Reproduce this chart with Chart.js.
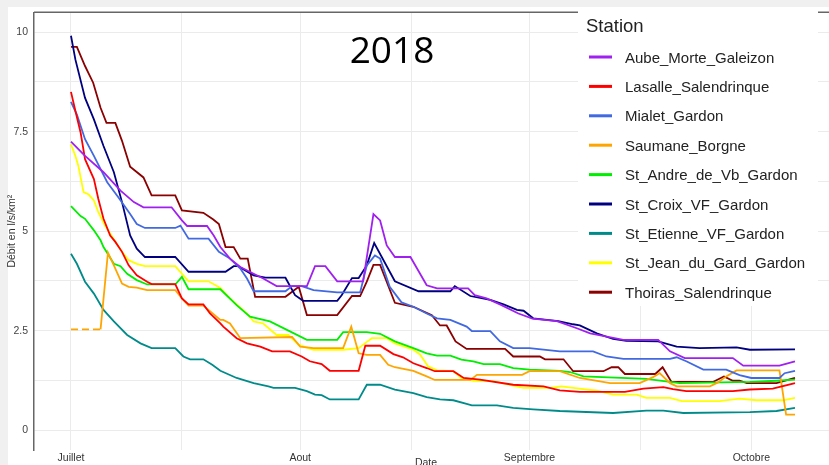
<!DOCTYPE html>
<html>
<head>
<meta charset="utf-8">
<script src="https://cdn.jsdelivr.net/npm/chart.js@4.4.1/dist/chart.umd.min.js"></script>
<style>
  html, body { margin: 0; padding: 0; background: #fff; }
</style>
</head>
<body>
<canvas id="myChart" width="829" height="465"></canvas>
<script>
// day 0 = 1 juillet 2018
const monthTicks = [0, 15, 31, 46, 62, 77, 92];
const monthLabels = { 0: "Juillet", 31: "Aout", 62: "Septembre", 92: "Octobre" };
const yTicks = [0, 1.25, 2.5, 3.75, 5, 6.25, 7.5, 8.75, 10];
const yLabels = { 0: "0", 2.5: "2.5", 5: "5", 7.5: "7.5", 10: "10" };

const stations = [
  "Aube_Morte_Galeizon",
  "Lasalle_Salendrinque",
  "Mialet_Gardon",
  "Saumane_Borgne",
  "St_Andre_de_Vb_Gardon",
  "St_Croix_VF_Gardon",
  "St_Etienne_VF_Gardon",
  "St_Jean_du_Gard_Gardon",
  "Thoiras_Salendrinque",
];

// [day, débit l/s/km²]
const aubeMorte = [[0,7.25],[1.9,6.89],[4.4,6.48],[6.7,6.02],[8.5,5.73],[9.8,5.6],[13.6,5.6],[15,5.27],[15.7,5.13],[18.4,5.13],[19.3,4.89],[20.2,4.6],[21.5,4.31],[22.9,4.1],[24.7,3.93],[26,3.81],[27.8,3.62],[31.9,3.62],[33,4.12],[34.4,4.12],[36,3.74],[39.5,3.74],[40.9,5.43],[41.8,5.27],[42.7,4.64],[43.8,4.35],[45.9,4.35],[48.1,3.64],[49.5,3.56],[53.7,3.56],[54.6,3.39],[56.2,3.31],[58,3.16],[60.5,2.93],[62.4,2.8],[65.7,2.74],[68.4,2.56],[70.2,2.43],[74.7,2.27],[79.4,2.27],[81,1.98],[83,1.81],[89.5,1.81],[90.9,1.62],[95.8,1.62],[97.9,1.73]];
const lasalle = [[0,8.5],[0.6,8.02],[1.3,7.48],[1.9,6.81],[3.1,6.31],[3.7,5.81],[4.4,5.31],[5.3,4.89],[6,4.73],[6.9,4.48],[7.8,4.14],[8.9,3.89],[10.3,3.73],[10.9,3.67],[14.1,3.67],[15,3.31],[15.9,3.16],[17.9,3.16],[18.8,2.93],[20.2,2.68],[20.6,2.6],[22.4,2.31],[23.8,2.18],[25.6,2.1],[27.2,1.98],[29.6,1.98],[31.2,1.85],[32.3,1.73],[33.9,1.66],[35,1.49],[38.9,1.49],[39.8,2.12],[41.8,2.12],[43.6,1.91],[44.9,1.83],[46.3,1.68],[48.1,1.56],[49.2,1.48],[51.7,1.48],[53.1,1.31],[55.3,1.27],[59.8,1.14],[63.9,1.1],[66.1,1.0],[68.8,0.96],[74.9,0.96],[77.4,1.04],[80.1,1.08],[81.4,1.03],[83.2,0.98],[89.5,0.98],[91.8,1.02],[94.9,1.04],[97.9,1.18]];
const mialet = [[0,8.25],[0.8,7.93],[1.9,7.31],[3.1,6.89],[4.9,6.23],[6.4,5.85],[8,5.43],[8.9,5.18],[10,5.08],[14.1,5.08],[14.8,5.14],[15.9,4.81],[18.6,4.81],[20,4.48],[21.5,4.31],[22.9,4.06],[23.8,3.81],[24.7,3.49],[29,3.49],[29.9,3.62],[31.2,3.62],[32.8,3.52],[36,3.46],[39.1,3.46],[40,4.14],[41.1,4.39],[41.8,4.31],[43.1,3.6],[44.7,3.21],[46.3,3.1],[48.1,2.93],[49.5,2.81],[51.3,2.77],[53.5,2.6],[54.2,2.49],[56.7,2.49],[58,2.23],[59.8,2.06],[62,2.06],[63.9,2.02],[66.1,1.98],[70.6,1.98],[72.4,1.85],[74.7,1.79],[81,1.79],[81.9,1.83],[83.2,1.73],[85.5,1.52],[88.6,1.52],[90.4,1.38],[92,1.31],[95.8,1.31],[96.5,1.43],[97.9,1.49]];
const saumane = [[0,2.53],[4,2.53],[5,4.46],[5.8,4.14],[6.9,3.68],[7.8,3.6],[8.9,3.58],[10.3,3.52],[14.1,3.52],[15,3.31],[15.9,3.13],[17.9,3.13],[20.2,2.77],[20.6,2.77],[21.5,2.68],[22.9,2.31],[29.9,2.34],[31,2.1],[32.8,2.06],[36.8,2.06],[37.9,2.6],[38.9,1.93],[40,1.89],[41.8,1.89],[42.9,1.64],[43.8,1.58],[46.3,1.49],[48.1,1.35],[49.2,1.26],[54,1.26],[54.9,1.39],[61,1.39],[62,1.48],[66.1,1.48],[68.8,1.31],[72.9,1.18],[76.9,1.18],[78.7,1.33],[79.6,1.43],[81,1.18],[81.9,1.1],[86.4,1.1],[87.5,1.2],[88.6,1.35],[90,1.5],[95.8,1.5],[96.7,0.39],[97.9,0.39]];
const standre = [[0,5.63],[1.3,5.38],[1.9,5.31],[3.1,5.02],[4,4.77],[4.4,4.6],[5.8,4.18],[6.7,4.12],[7.6,3.93],[8.9,3.77],[10.3,3.66],[14.1,3.66],[15,3.85],[15.9,3.54],[20.2,3.54],[22.4,3.14],[24.2,2.85],[26.9,2.73],[29.2,2.52],[31.9,2.27],[36,2.27],[36.8,2.46],[40,2.46],[41.8,2.42],[43.8,2.23],[46.3,2.06],[48.1,1.93],[49.5,1.87],[51.3,1.87],[52.8,1.77],[54.4,1.73],[55.8,1.66],[58,1.66],[59.8,1.56],[62,1.52],[66.1,1.49],[67.5,1.46],[69.3,1.35],[77.8,1.29],[82.3,1.18],[91.8,1.21],[95.4,1.24],[97.9,1.27]];
const stcroix = [[0,9.91],[0.6,9.31],[1.9,8.35],[3.1,7.81],[4.4,7.14],[5.8,6.48],[6.9,5.73],[8,4.89],[8.9,4.56],[10,4.35],[14.1,4.35],[15.9,3.98],[20.9,3.98],[22,4.12],[22.6,4.12],[24.7,3.89],[26.3,3.83],[29,3.83],[30.3,3.39],[31.4,3.25],[36,3.25],[36.6,3.39],[38,3.82],[38.9,3.82],[40,4.14],[41,4.7],[43.8,3.74],[47,3.49],[51.3,3.49],[51.9,3.62],[54,3.37],[56.7,3.27],[58.5,3.16],[60.3,3.02],[61.2,3.0],[62.5,2.81],[65.9,2.74],[67.9,2.66],[68.8,2.63],[71.1,2.43],[73.3,2.29],[75.1,2.24],[79.4,2.23],[81.9,2.1],[85,2.06],[90,2.08],[91.8,2.02],[97.9,2.03]];
const stetienne = [[0,4.43],[0.8,4.18],[1.9,3.73],[3.1,3.43],[4.4,3.02],[5.8,2.73],[7.6,2.39],[9.4,2.18],[10.9,2.06],[14.1,2.06],[15.2,1.85],[16.1,1.78],[17.9,1.78],[19.1,1.64],[20.2,1.49],[22.4,1.31],[24.7,1.18],[26.7,1.1],[27.4,1.06],[30.3,1.06],[31.9,0.98],[33,0.89],[33.9,0.88],[35,0.77],[38.9,0.77],[40,1.14],[41.8,1.14],[43.8,1.02],[46.3,0.93],[48.1,0.83],[49.9,0.77],[51.7,0.75],[53.5,0.66],[54.2,0.62],[57.6,0.62],[59.8,0.56],[62.5,0.52],[66.1,0.48],[73.3,0.43],[77.8,0.49],[80.1,0.49],[82.8,0.43],[91.8,0.45],[95.4,0.48],[97.9,0.56]];
const stjean = [[0,7.18],[0.6,6.89],[1,6.64],[1.7,5.98],[2.4,5.92],[3.1,5.77],[3.7,5.48],[4.6,5.14],[6.2,4.68],[6.9,4.48],[7.8,4.27],[8.9,4.18],[10,4.12],[14.1,4.12],[15.9,3.74],[18.6,3.74],[20.2,3.57],[21.5,3.31],[23.8,2.93],[24.7,2.73],[26,2.68],[27.8,2.39],[29.4,2.39],[30.8,2.14],[32.8,2.02],[36.8,2.02],[38.9,2.06],[40.1,2.23],[40.7,2.31],[42.7,2.31],[43.8,2.18],[46.3,2.02],[47.2,1.9],[48.3,1.6],[49.5,1.5],[51.7,1.48],[52.8,1.31],[54.4,1.24],[57.1,1.23],[59.8,1.12],[61.2,1.06],[64.8,1.06],[66.3,1.1],[67.9,1.06],[71.1,0.99],[73.3,0.89],[76.5,0.89],[77.8,0.81],[81,0.81],[82.6,0.73],[87.7,0.73],[90.4,0.79],[92.7,0.75],[96.3,0.75],[97.9,0.81]];
const thoiras = [[0,9.63],[0.8,9.63],[1.9,9.15],[3,8.73],[4,8.1],[4.8,7.72],[6,7.72],[6.9,7.27],[8,6.62],[9.8,6.35],[10.9,5.9],[14.1,5.9],[15,5.52],[17.9,5.46],[19.2,5.3],[20,5.18],[20.9,4.6],[22,4.6],[22.9,4.31],[23.9,4.31],[24.9,3.35],[29,3.35],[30.8,3.6],[31.9,2.89],[36,2.89],[38,3.37],[39.1,3.37],[40,3.73],[40.9,4.15],[41.8,4.15],[43.8,3.2],[46.3,3.1],[48.8,2.89],[49.9,2.63],[50.8,2.63],[52,2.23],[53.5,2.04],[58.7,2.04],[59.8,1.85],[63.4,1.85],[64.1,1.78],[66.6,1.78],[67.9,1.48],[72,1.48],[73.1,1.58],[74,1.58],[74.9,1.41],[79,1.41],[80,1.58],[81.2,1.21],[86.8,1.21],[88.3,1.35],[89.5,1.24],[90.4,1.24],[91.4,1.18],[95.4,1.18],[97.9,1.31]];

const seriesValues = [aubeMorte, lasalle, mialet, saumane, standre, stcroix, stetienne, stjean, thoiras];
const lineColors = ["#A020F0", "#FF0000", "#4169E1", "#FFA500", "#00EE00", "#000080", "#008B8B", "#FFFF00", "#8B0000"];

const SANS = "'Liberation Sans', Arial, sans-serif";

const datasets = stations.map((name, i) => {
  const ds = {
    label: name,
    data: seriesValues[i].map(p => ({ x: p[0], y: p[1] })),
    borderColor: lineColors[i],
    backgroundColor: lineColors[i],
    borderWidth: 1.8,
    pointRadius: 0,
    tension: 0,
  };
  if (name === "Saumane_Borgne") {
    // missing values at the start drawn dashed
    ds.segment = { borderDash: c => (c.p0DataIndex === 0 ? [7, 4] : undefined) };
  }
  return ds;
});

const decor = {
  id: "decor",
  beforeDraw(chart) {
    const ctx = chart.ctx;
    ctx.save();
    ctx.fillStyle = "#f0f0f0";
    ctx.fillRect(0, 0, chart.width, 7);
    ctx.fillRect(0, 0, 8, chart.height);
    ctx.restore();
  },
  afterDatasetsDraw(chart) {
    const ctx = chart.ctx;
    const a = chart.chartArea;
    ctx.save();
    // top frame line
    ctx.strokeStyle = "#666";
    ctx.lineWidth = 1.5;
    ctx.beginPath();
    ctx.moveTo(a.left, a.top);
    ctx.lineTo(chart.width, a.top);
    ctx.stroke();

    // title
    ctx.fillStyle = "#000";
    ctx.font = "37px 'Open Sans', sans-serif";
    ctx.textAlign = "center";
    ctx.textBaseline = "alphabetic";
    ctx.fillText("2018", 392, 63);

    // x axis title
    ctx.fillStyle = "#333";
    ctx.font = "10.5px " + SANS;
    ctx.fillText("Date", 426, 466);

    // legend
    ctx.textAlign = "left";
    ctx.fillStyle = "#fff";
    ctx.fillRect(578, 10, 240, 296);
    ctx.fillStyle = "#222";
    ctx.font = "18.5px " + SANS;
    ctx.fillText("Station", 586, 31.5);
    ctx.font = "15px " + SANS;
    chart.data.datasets.forEach((ds, i) => {
      const y = 57 + i * 29.4;
      ctx.strokeStyle = ds.borderColor;
      ctx.lineWidth = 3;
      ctx.beginPath();
      ctx.moveTo(589, y);
      ctx.lineTo(612, y);
      ctx.stroke();
      ctx.fillStyle = "#222";
      ctx.fillText(ds.label, 625, y + 5.5);
    });
    ctx.restore();
  },
};

const ctx = document.getElementById("myChart");

new Chart(ctx, {
  type: "line",
  data: { datasets: datasets },
  plugins: [decor],
  options: {
    responsive: false,
    animation: false,
    layout: { padding: 0 },
    plugins: {
      legend: { display: false },
      tooltip: { enabled: false },
    },
    scales: {
      x: {
        type: "linear",
        min: -5,
        max: 102.5,
        afterBuildTicks: scale => {
          scale.ticks = monthTicks.map(v => ({ value: v }));
        },
        afterFit: scale => {
          scale.height = 15;
        },
        ticks: {
          autoSkip: false,
          maxRotation: 0,
          padding: 2,
          color: "#333",
          font: { family: SANS, size: 10.5 },
          callback: v => monthLabels[v] || "",
        },
        grid: { color: "#ebebeb", drawTicks: false },
        border: { display: false },
      },
      y: {
        min: -0.5,
        max: 10.5,
        afterBuildTicks: scale => {
          scale.ticks = yTicks.map(v => ({ value: v }));
        },
        afterFit: scale => {
          scale.width = 34;
        },
        ticks: {
          padding: 6,
          color: "#444",
          font: { family: SANS, size: 10.5 },
          callback: v => (yLabels[v] !== undefined ? yLabels[v] : ""),
        },
        grid: { color: "#ebebeb", drawTicks: false },
        border: { display: true, color: "#666", width: 1.5 },
        title: {
          display: true,
          text: "Débit en l/s/km²",
          color: "#333",
          font: { family: SANS, size: 10.5 },
          padding: { top: 6, bottom: 0 },
        },
      },
    },
  },
});
</script>
</body>
</html>
